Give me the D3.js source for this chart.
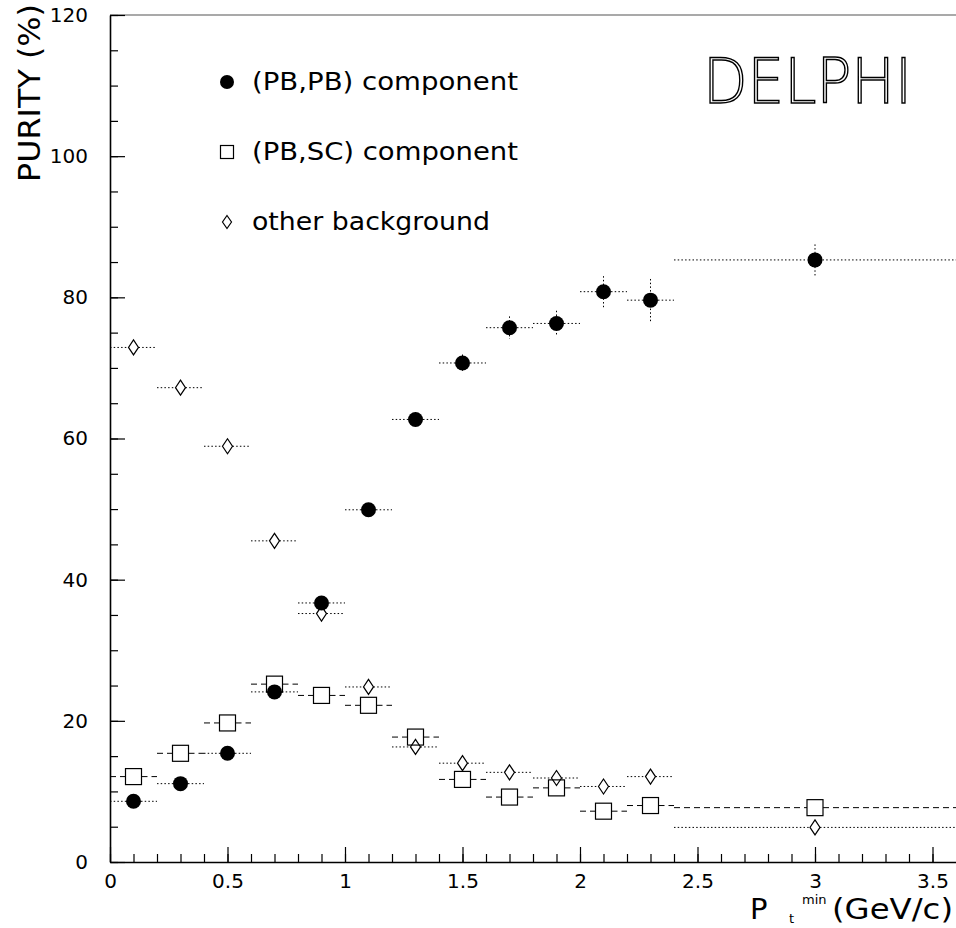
<!DOCTYPE html>
<html lang="en">
<head>
<meta charset="UTF-8">
<title>Purity vs Pt min</title>
<script src="https://d3js.org/d3.v7.min.js"></script>
<style>
  * { margin: 0; padding: 0; }
  body { background: #fff; }
  svg text { font-family: "DejaVu Sans", sans-serif; fill: #000; }
</style>
</head>
<body>
<script>
// bins in Pt min (GeV/c)
var xCenters = [0.1, 0.3, 0.5, 0.7, 0.9, 1.1, 1.3, 1.5, 1.7, 1.9, 2.1, 2.3, 3.0];
var xLow     = [0.0, 0.2, 0.4, 0.6, 0.8, 1.0, 1.2, 1.4, 1.6, 1.8, 2.0, 2.2, 2.4];
var xHigh    = [0.2, 0.4, 0.6, 0.8, 1.0, 1.2, 1.4, 1.6, 1.8, 2.0, 2.2, 2.4, 3.6];

// purity (%)
var pbpb    = [8.6, 11.1, 15.4, 24.1, 36.7, 49.9, 62.7, 70.7, 75.7, 76.3, 80.8, 79.6, 85.3];
var pbpbErr = [0.4, 0.5, 0.6, 0.7, 0.8, 0.9, 1.0, 1.2, 1.6, 1.8, 2.2, 3.0, 2.2];
var pbsc    = [12.1, 15.4, 19.7, 25.2, 23.6, 22.2, 17.7, 11.7, 9.2, 10.5, 7.2, 8.0, 7.7];
var other   = [72.9, 67.2, 58.9, 45.5, 35.2, 24.8, 16.3, 14.0, 12.7, 11.9, 10.7, 12.1, 4.9];

var xMajor = [0, 0.5, 1, 1.5, 2, 2.5, 3, 3.5];
var yMajor = [0, 20, 40, 60, 80, 100, 120];
var legendLabels = ["(PB,PB) component", "(PB,SC) component", "other background"];

var W = 956, H = 928;
var svg = d3.select("body").append("svg")
    .attr("width", W)
    .attr("height", H);

var x = d3.scaleLinear().domain([0, 3.6]).range([110, 956]);
var y = d3.scaleLinear().domain([0, 120]).range([862, 15]);

// top frame line
svg.append("line")
    .attr("x1", 110).attr("x2", W)
    .attr("y1", y(120)).attr("y2", y(120))
    .attr("stroke", "#555").attr("stroke-width", 1.2);

// minor ticks
var xMinor = d3.range(0, 36).map(function (i) { return i / 10; });
var yMinor = d3.range(0, 25).map(function (i) { return i * 5; });

svg.append("g")
    .attr("transform", "translate(0," + y(0) + ")")
    .call(d3.axisBottom(x).tickValues(xMinor).tickSize(-8).tickSizeOuter(0).tickFormat(""))
    .call(function (g) { g.select(".domain").remove(); });

svg.append("g")
    .attr("transform", "translate(" + x(0) + ",0)")
    .call(d3.axisLeft(y).tickValues(yMinor).tickSize(-8).tickSizeOuter(0).tickFormat(""))
    .call(function (g) { g.select(".domain").remove(); });

// major axes
var xAxis = svg.append("g")
    .attr("transform", "translate(0," + y(0) + ")")
    .call(d3.axisBottom(x).tickValues(xMajor).tickSize(-15).tickSizeOuter(0).tickPadding(12)
        .tickFormat(function (d) { return d; }));

var yAxis = svg.append("g")
    .attr("transform", "translate(" + x(0) + ",0)")
    .call(d3.axisLeft(y).tickValues(yMajor).tickSize(-15).tickSizeOuter(0).tickPadding(22));

[xAxis, yAxis].forEach(function (g) {
    g.select(".domain").attr("stroke", "#000").attr("stroke-width", 1.6);
    g.selectAll("text").attr("font-size", "20px").attr("font-family", "DejaVu Sans, sans-serif");
});
svg.selectAll(".tick line").attr("stroke", "#000").attr("stroke-width", 1.2);

// marker half-widths (px)
var circR = 7.5, sqH = 8, dmW = 5, dmH = 7.5;
var DOT = "1.5,2.2", DASH = "6,4";

function hbars(vals, half, dash) {
    var g = svg.append("g")
        .attr("stroke", "#000").attr("stroke-width", 1).attr("stroke-dasharray", dash);
    vals.forEach(function (v, i) {
        var cx = x(xCenters[i]), cy = y(v);
        g.append("line").attr("x1", x(xLow[i])).attr("x2", cx - half)
            .attr("y1", cy).attr("y2", cy);
        g.append("line").attr("x1", cx + half).attr("x2", x(xHigh[i]))
            .attr("y1", cy).attr("y2", cy);
    });
}

hbars(pbpb, circR, DOT);
hbars(pbsc, sqH, DASH);
hbars(other, dmW, DOT);

// vertical errors on (PB,PB)
var vg = svg.append("g").attr("stroke", "#000").attr("stroke-width", 1).attr("stroke-dasharray", DOT);
pbpb.forEach(function (v, i) {
    var cx = x(xCenters[i]);
    vg.append("line").attr("x1", cx).attr("x2", cx).attr("y1", y(v + pbpbErr[i])).attr("y2", y(v - pbpbErr[i]));
});

// markers
svg.append("g").selectAll("rect")
    .data(pbsc)
    .enter()
    .append("rect")
    .attr("x", function (d, i) { return x(xCenters[i]) - sqH; })
    .attr("y", function (d) { return y(d) - sqH; })
    .attr("width", 2 * sqH)
    .attr("height", 2 * sqH)
    .attr("fill", "none")
    .attr("stroke", "#000")
    .attr("stroke-width", 1.2);

function diamond(cx, cy, w, h) {
    return "M" + cx + "," + (cy - h) + "L" + (cx + w) + "," + cy + "L" + cx + "," + (cy + h) + "L" + (cx - w) + "," + cy + "Z";
}

svg.append("g").selectAll("path")
    .data(other)
    .enter()
    .append("path")
    .attr("d", function (d, i) { return diamond(x(xCenters[i]), y(d), dmW, dmH); })
    .attr("fill", "none")
    .attr("stroke", "#000")
    .attr("stroke-width", 1.2);

svg.append("g").selectAll("circle")
    .data(pbpb)
    .enter()
    .append("circle")
    .attr("cx", function (d, i) { return x(xCenters[i]); })
    .attr("cy", function (d) { return y(d); })
    .attr("r", circR)
    .attr("fill", "#000");

// legend
var lg = svg.append("g");
lg.append("circle").attr("cx", 227).attr("cy", 82).attr("r", 7).attr("fill", "#000");
lg.append("rect").attr("x", 220.5).attr("y", 145.5).attr("width", 13).attr("height", 13)
    .attr("fill", "none").attr("stroke", "#000").attr("stroke-width", 1.2);
lg.append("path").attr("d", diamond(227, 222, 4.5, 6.5))
    .attr("fill", "none").attr("stroke", "#000").attr("stroke-width", 1.2);

var legY = [90, 160, 230];
var legLen = [266, 266, 238];
legendLabels.forEach(function (t, i) {
    lg.append("text")
        .attr("x", 252).attr("y", legY[i])
        .attr("font-size", "24px")
        .attr("textLength", legLen[i])
        .attr("lengthAdjust", "spacingAndGlyphs")
        .text(t);
});

// DELPHI logo
svg.append("text")
    .attr("x", 703).attr("y", 103)
    .attr("font-size", "63px")
    .attr("font-weight", 200)
    .attr("textLength", 209)
    .attr("lengthAdjust", "spacingAndGlyphs")
    .style("fill", "#fff")
    .attr("stroke", "#000")
    .attr("stroke-width", 1.5)
    .text("DELPHI");

// y title
svg.append("text")
    .attr("transform", "translate(40,93) rotate(-90)")
    .attr("text-anchor", "middle")
    .attr("font-size", "30px")
    .attr("textLength", 178)
    .attr("lengthAdjust", "spacingAndGlyphs")
    .text("PURITY (%)");

// x title
var xt = svg.append("text")
    .attr("x", 750).attr("y", 919)
    .attr("font-size", "29px");
xt.append("tspan").text("P");
xt.append("tspan").attr("x", 789).attr("y", 923).attr("font-size", "13px").text("t");
xt.append("tspan").attr("x", 802).attr("y", 904).attr("font-size", "13px").text("min");
xt.append("tspan").attr("x", 832).attr("y", 919).attr("textLength", 121).attr("lengthAdjust", "spacingAndGlyphs").text("(GeV/c)");
</script>
</body>
</html>
